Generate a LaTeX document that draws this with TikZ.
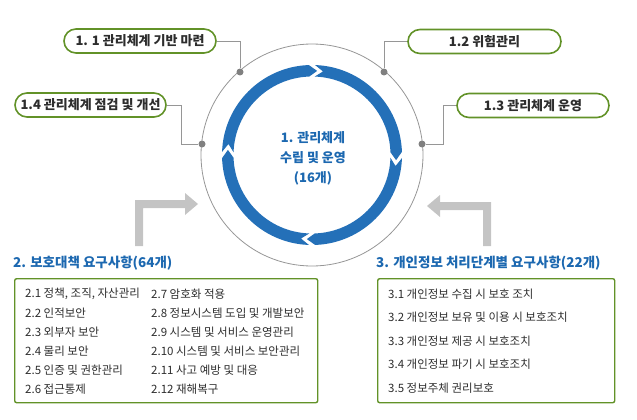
\documentclass[tikz,border=0pt]{standalone}
\usepackage{fontspec}
\setmainfont{Noto Sans CJK KR}
\definecolor{grn}{RGB}{98,146,40}
\definecolor{blu}{RGB}{28,104,176}
\definecolor{ringblu}{RGB}{36,112,184}
\definecolor{txt}{RGB}{45,45,45}
\definecolor{dotgray}{RGB}{128,128,128}
\definecolor{linegray}{RGB}{150,150,150}
\definecolor{arrgray}{RGB}{196,196,196}
\begin{document}
\begin{tikzpicture}[x=1pt,y=-1pt,
  pill/.style={draw=grn, line width=1.6pt, rounded corners=12pt, fill=white,
    minimum height=24pt, inner sep=0pt, text=txt,
    font=\bfseries\fontsize{13}{14}\selectfont},
  dot/.style={circle, fill=dotgray, inner sep=0pt, minimum size=7pt},
  conn/.style={draw=linegray, line width=0.8pt},
  heading/.style={anchor=west, inner sep=0pt, text=blu,
    font=\bfseries\fontsize{13.5}{15}\selectfont},
  listbox/.style={draw=grn, line width=1.4pt, rounded corners=2pt, anchor=north west, inner sep=0pt},
  item/.style={anchor=west, inner sep=0pt, text=txt, font=\fontsize{11.5}{13}\selectfont},
  seg/.style={fill=ringblu},
  bigarrow/.style={fill=arrgray}
]
\useasboundingbox (0,0) rectangle (637,420);

% outer circle
\node[circle, draw=linegray, line width=0.8pt, minimum size=222pt, inner sep=0pt] (outer) at (312,155) {};

% ring segments
\begin{scope}[shift={(312,155)}, yscale=-1]
  \def\Ro{90}\def\Ri{78.5}\def\Rm{84.25}\def\g{2}\def\d{5.5}
  \foreach \s in {180,90,0,-90}{
    \pgfmathsetmacro{\a}{\s-\g}
    \pgfmathsetmacro{\b}{\s-90+\g}
    \pgfmathsetmacro{\tip}{\b-\d}
    \pgfmathsetmacro{\notch}{\a-\d}
    \fill[seg] (\a:\Ro) arc[start angle=\a, end angle=\b, radius=\Ro]
      -- (\tip:\Rm) -- (\b:\Ri)
      arc[start angle=\b, end angle=\a, radius=\Ri]
      -- (\notch:\Rm) -- cycle;
  }
\end{scope}

\node[align=center, text=blu, inner sep=0pt,
  font=\bfseries\fontsize{13}{20}\selectfont] (ctr) at (313,158)
  {1. 관리체계\\수립 및 운영\\(16개)};

% dots
\node[dot] (d11) at (240,72) {};
\node[dot] (d12) at (384,72) {};
\node[dot] (d14) at (202,144) {};
\node[dot] (d13) at (422,144) {};

% pills
\node[pill, minimum width=152pt] (p11) at (140,41) {1. 1 관리체계 기반 마련};
\node[pill, minimum width=151pt] (p14) at (90.5,105) {1.4 관리체계 점검 및 개선};
\node[pill, minimum width=153pt] (p12) at (484.5,41.5) {1.2 위험관리};
\node[pill, minimum width=152pt] (p13) at (533,105.5) {1.3 관리체계 운영};

% connectors
\coordinate (k14) at (181,144);
\coordinate (k13) at (443,144);
\draw[conn] (p11.east) -| (d11);
\draw[conn] (p12.west) -| (d12);
\draw[conn] (p14.east) -| (k14) -- (d14);
\draw[conn] (p13.west) -| (k13) -- (d13);

% big elbow arrows
\fill[bigarrow] (135,246) -- (135,200) -- (185,200) -- (185,193) -- (198,204)
  -- (185,215) -- (185,208) -- (143,208) -- (143,246) -- cycle;
\fill[bigarrow] (491,246) -- (491,202) -- (440,202) -- (440,195) -- (427,206)
  -- (440,217) -- (440,210) -- (483,210) -- (483,246) -- cycle;

% headings
\node[heading] (h2) at (13,263) {2. 보호대책 요구사항(64개)};
\node[heading] (h3) at (376,263) {3. 개인정보 처리단계별 요구사항(22개)};

% boxes
\node[listbox, minimum width=303pt, minimum height=124pt] (b2) at (14,278) {};
\node[listbox, minimum width=237pt, minimum height=124pt] (b3) at (377,278) {};

% items box 2
\node[item] (i21) at (25,294) {2.1 정책, 조직, 자산관리};
\node[item] (i22) at (25,313) {2.2 인적보안};
\node[item] (i23) at (25,332) {2.3 외부자 보안};
\node[item] (i24) at (25,351) {2.4 물리 보안};
\node[item] (i25) at (25,370) {2.5 인증 및 권한관리};
\node[item] (i26) at (25,389) {2.6 접근통제};
\node[item] (i27) at (151,294) {2.7 암호화 적용};
\node[item] (i28) at (151,313) {2.8 정보시스템 도입 및 개발보안};
\node[item] (i29) at (151,332) {2.9 시스템 및 서비스 운영관리};
\node[item] (i210) at (151,351) {2.10 시스템 및 서비스 보안관리};
\node[item] (i211) at (151,370) {2.11 사고 예방 및 대응};
\node[item] (i212) at (151,389) {2.12 재해복구};

% items box 3
\node[item] (i31) at (388,294) {3.1 개인정보 수집 시 보호 조치};
\node[item] (i32) at (388,317.5) {3.2 개인정보 보유 및 이용 시 보호조치};
\node[item] (i33) at (388,341) {3.3 개인정보 제공 시 보호조치};
\node[item] (i34) at (388,364.5) {3.4 개인정보 파기 시 보호조치};
\node[item] (i35) at (388,388) {3.5 정보주체 권리보호};
\end{tikzpicture}
\end{document}
